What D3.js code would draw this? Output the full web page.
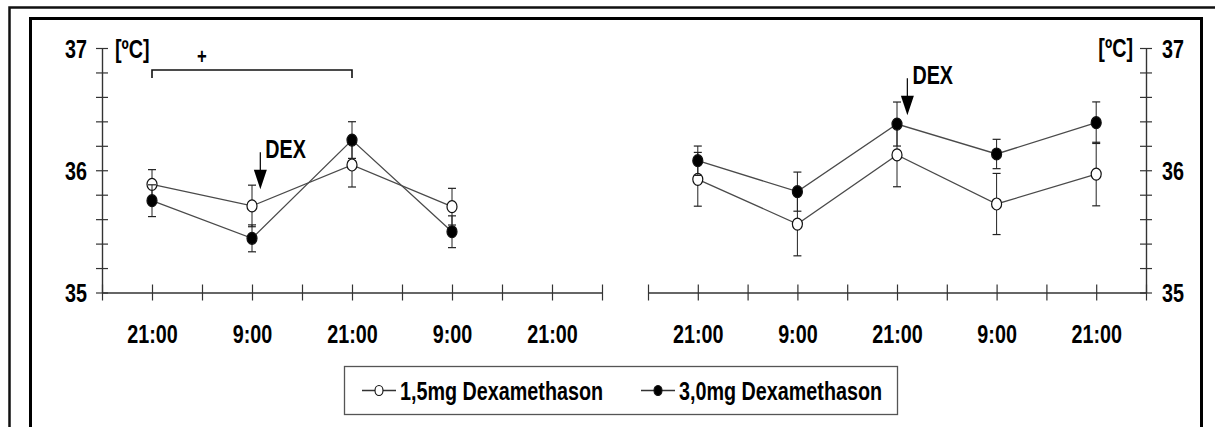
<!DOCTYPE html>
<html>
<head>
<meta charset="utf-8">
<script src="https://cdn.jsdelivr.net/npm/d3@7/dist/d3.min.js"></script>
<style>
  html, body { margin: 0; padding: 0; background: #fff; }
  svg { display: block; }
  text { font-family: "Liberation Sans", Arial, sans-serif; font-weight: bold; fill: #000; }
</style>
</head>
<body>
<svg id="chart" width="1215" height="427"></svg>
<script>
// Time positions (hours after 15:00 on the first day) and their axis labels
const sampleHours = [6, 18, 30, 42, 54];
const tickHours = [0, 6, 12, 18, 24, 30, 36, 42, 48, 54, 60];
const tickLabels = ["", "21:00", "", "9:00", "", "21:00", "", "9:00", "", "21:00", ""];
const yTicks = [35, 35.2, 35.4, 35.6, 35.8, 36, 36.2, 36.4, 36.6, 36.8, 37];
const yLabels = ["35", "", "", "", "", "36", "", "", "", "", "37"];

// Left panel: body temperature [°C], mean and standard error
const leftLow = [35.885, 35.708, 36.043, 35.702];
const leftLowErr = [0.12, 0.17, 0.18, 0.15];
const leftHigh = [35.751, 35.443, 36.247, 35.497];
const leftHighErr = [0.13, 0.11, 0.15, 0.13];

// Right panel
const rightLow = [35.926, 35.56, 36.125, 35.724, 35.969];
const rightLowErr = [0.22, 0.26, 0.26, 0.25, 0.26];
const rightHigh = [36.078, 35.825, 36.378, 36.133, 36.389];
const rightHighErr = [0.12, 0.16, 0.18, 0.12, 0.17];

// Dexamethasone administration times (hours) and arrow tip levels (°C)
const dexHours = [19, 31.25];
const dexTips = [35.845, 36.45];
// Significance bracket
const bracketHours = [6, 30];
const bracketLevel = 36.82;

const seriesNames = ["1,5mg Dexamethason", "3,0mg Dexamethason"];

const svg = d3.select("#chart");
const NARROW = 0.76;
const FS = 26;

function label(g, x, y, str, anchor, size) {
  return g.append("text")
    .attr("transform", `translate(${x},${y}) scale(${NARROW},1)`)
    .attr("text-anchor", anchor)
    .style("font-size", size + "px")
    .text(str);
}

// Frames
svg.append("path").attr("d", "M9.5,430 V7.5 H1220")
  .attr("fill", "none").attr("stroke", "#111").attr("stroke-width", 2.5);
svg.append("path").attr("d", "M30.5,430 V18.5 H1201.5 V430")
  .attr("fill", "none").attr("stroke", "#000").attr("stroke-width", 3);

const y = d3.scaleLinear().domain([35, 37]).range([292.5, 48]);
const xL = d3.scaleLinear().domain([0, 60]).range([102, 602]);
const xR = d3.scaleLinear().domain([0, 60]).range([648, 1146]);

const axisColor = "#333";

function xAxis(x) {
  const g = svg.append("g").attr("transform", `translate(0,${y(35)})`)
    .call(d3.axisBottom(x).tickValues(tickHours).tickSize(0)
      .tickFormat((d, i) => tickLabels[i]));
  g.select(".domain").attr("stroke", axisColor).attr("stroke-width", 1.4);
  g.selectAll(".tick line").attr("stroke", axisColor).attr("stroke-width", 1.2)
    .attr("y1", -8).attr("y2", 8);
  g.selectAll(".tick text")
    .attr("y", 51).attr("dy", null)
    .attr("transform", `scale(${NARROW},1)`)
    .attr("font-size", null).attr("font-family", null)
    .style("font-size", FS + "px");
  return g;
}

function yAxis(xPos, right) {
  const gen = right ? d3.axisRight(y) : d3.axisLeft(y);
  const g = svg.append("g").attr("transform", `translate(${xPos},0)`)
    .call(gen.tickValues(yTicks).tickSize(0).tickFormat((d, i) => yLabels[i]));
  g.select(".domain").attr("stroke", axisColor).attr("stroke-width", 1.4);
  g.selectAll(".tick line").attr("stroke", axisColor).attr("stroke-width", 1.2)
    .attr("x1", -6).attr("x2", 6);
  g.selectAll(".tick text")
    .attr("x", null).attr("dy", "0.36em")
    .attr("text-anchor", right ? "start" : "end")
    .attr("transform", `translate(${right ? 16 : -15},0) scale(${NARROW},1)`)
    .attr("font-size", null).attr("font-family", null)
    .style("font-size", FS + "px");
  return g;
}

xAxis(xL);
xAxis(xR);
yAxis(xL(0), false);
yAxis(xR(60), true);

label(svg, 115, 58, "[ºC]", "start", FS);
label(svg, 1133, 57, "[ºC]", "end", FS);

function drawSeries(x, vals, errs, filled) {
  const pts = vals.map((v, i) => ({ h: sampleHours[i], v, e: errs[i] }));
  const g = svg.append("g");
  g.append("path").datum(pts)
    .attr("d", d3.line().x(d => x(d.h)).y(d => y(d.v)))
    .attr("fill", "none").attr("stroke", "#4a4a4a").attr("stroke-width", 1.3);
  const eb = g.selectAll(".eb").data(pts).join("g");
  eb.append("line")
    .attr("x1", d => x(d.h)).attr("x2", d => x(d.h))
    .attr("y1", d => y(d.v - d.e)).attr("y2", d => y(d.v + d.e))
    .attr("stroke", "#222").attr("stroke-width", 1);
  [-1, 1].forEach(s => {
    eb.append("line")
      .attr("x1", d => x(d.h) - 4).attr("x2", d => x(d.h) + 4)
      .attr("y1", d => y(d.v + s * d.e)).attr("y2", d => y(d.v + s * d.e))
      .attr("stroke", "#222").attr("stroke-width", 1.2);
  });
  return { g, pts, filled, x };
}

function drawMarkers(s) {
  s.g.selectAll(".m").data(s.pts).join("ellipse")
    .attr("cx", d => s.x(d.h)).attr("cy", d => y(d.v))
    .attr("rx", 5).attr("ry", 6)
    .attr("fill", s.filled ? "#000" : "#fff")
    .attr("stroke", "#111").attr("stroke-width", 1.2);
}

const sets = [
  drawSeries(xL, leftLow, leftLowErr, false),
  drawSeries(xL, leftHigh, leftHighErr, true),
  drawSeries(xR, rightLow, rightLowErr, false),
  drawSeries(xR, rightHigh, rightHighErr, true)
];
sets.forEach(drawMarkers);

// Dexamethasone arrows
[[xL, 0], [xR, 1]].forEach(([x, i]) => {
  const ax = x(dexHours[i]);
  const tip = y(dexTips[i]);
  svg.append("line").attr("x1", ax).attr("x2", ax)
    .attr("y1", tip - 37).attr("y2", tip - 18)
    .attr("stroke", "#111").attr("stroke-width", 1.3);
  svg.append("path")
    .attr("d", `M${ax - 6.5},${tip - 19.5} L${ax + 6.5},${tip - 19.5} L${ax},${tip} Z`)
    .attr("fill", "#000");
  label(svg, ax + 5, tip - 31.5, "DEX", "start", FS);
});

// Significance bracket
const by = y(bracketLevel);
svg.append("path")
  .attr("d", `M${xL(bracketHours[0])},${by + 8} V${by} H${xL(bracketHours[1])} V${by + 8}`)
  .attr("fill", "none").attr("stroke", "#111").attr("stroke-width", 1.6);
label(svg, xL((bracketHours[0] + bracketHours[1]) / 4 + bracketHours[0] / 2), by - 6, "+", "middle", 22);

// Legend
const lg = svg.append("g");
lg.append("rect").attr("x", 344.5).attr("y", 366.5).attr("width", 553).attr("height", 48)
  .attr("fill", "#fff").attr("stroke", "#555").attr("stroke-width", 1.3);
[[362, false], [641, true]].forEach(([lx, filled], i) => {
  lg.append("line").attr("x1", lx).attr("x2", lx + 34).attr("y1", 390.5).attr("y2", 390.5)
    .attr("stroke", "#333").attr("stroke-width", 1.3);
  lg.append("ellipse").attr("cx", lx + 17).attr("cy", 390.5).attr("rx", 4).attr("ry", 5)
    .attr("fill", filled ? "#000" : "#fff").attr("stroke", "#111").attr("stroke-width", 1.1);
  label(lg, lx + 38, 400, seriesNames[i], "start", FS);
});
</script>
</body>
</html>
